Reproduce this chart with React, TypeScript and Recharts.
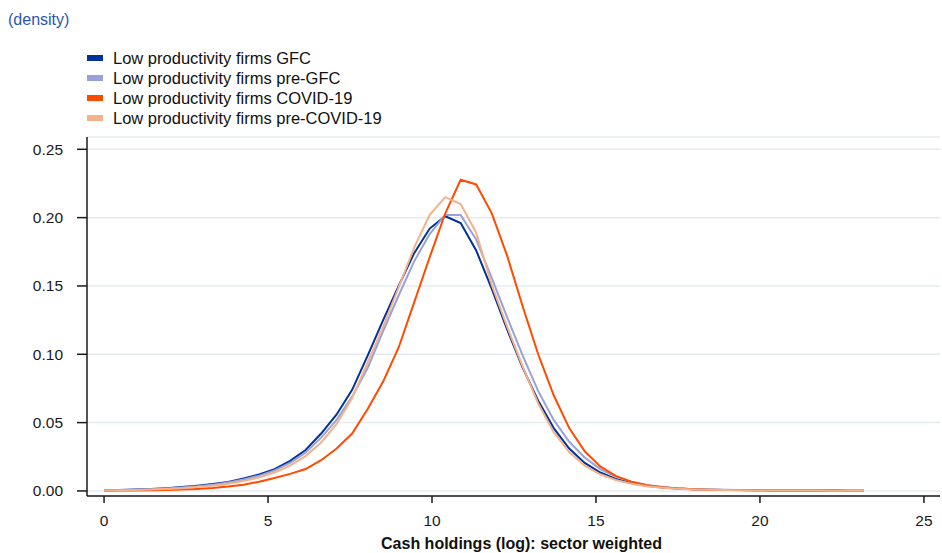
import React from 'react';
import { LineChart, Line, XAxis, YAxis, CartesianGrid } from 'recharts';

// x grid of the density estimates (log cash holdings)
const xValues = [
  0, 0.473, 0.946, 1.418, 1.891, 2.364, 2.837, 3.31, 3.782, 4.255,
  4.728, 5.201, 5.674, 6.146, 6.619, 7.092, 7.565, 8.038, 8.51, 8.983,
  9.456, 9.929, 10.402, 10.874, 11.347, 11.82, 12.293, 12.766, 13.238, 13.711,
  14.184, 14.657, 15.13, 15.602, 16.075, 16.548, 17.021, 17.494, 17.966, 18.439,
  18.912, 19.385, 19.858, 20.33, 20.803, 21.276, 21.749, 22.222, 22.694, 23.167,
];

const gfc = [
  0.0005, 0.0007, 0.001, 0.0014, 0.002, 0.0028, 0.0038, 0.005, 0.0066, 0.0092,
  0.012, 0.016, 0.022, 0.03, 0.042, 0.056, 0.074, 0.099, 0.125, 0.15,
  0.174, 0.192, 0.201, 0.196, 0.176, 0.148, 0.118, 0.09, 0.066, 0.046,
  0.031, 0.0205, 0.0135, 0.0088, 0.0058, 0.0038, 0.0025, 0.0017, 0.0012, 0.0009,
  0.0007, 0.0006, 0.0005, 0.0004, 0.0004, 0.0003, 0.0003, 0.0003, 0.0002, 0.0002,
];

const preGfc = [
  0.0005, 0.0007, 0.0009, 0.0013, 0.0018, 0.0025, 0.0034, 0.0046, 0.0062, 0.0084,
  0.0112, 0.015, 0.0205, 0.028, 0.039, 0.052, 0.069, 0.09, 0.117, 0.143,
  0.168, 0.188, 0.202, 0.202, 0.184, 0.156, 0.127, 0.099, 0.073, 0.052,
  0.036, 0.0245, 0.016, 0.0105, 0.0068, 0.0044, 0.0029, 0.0019, 0.0013, 0.001,
  0.0008, 0.0006, 0.0005, 0.0004, 0.0004, 0.0003, 0.0003, 0.0003, 0.0002, 0.0002,
];

const covid = [
  0.0002, 0.0003, 0.0004, 0.0005, 0.0007, 0.001, 0.0015, 0.0022, 0.0032, 0.0045,
  0.0068, 0.0095, 0.0125, 0.016, 0.0225, 0.031, 0.042, 0.06, 0.08, 0.105,
  0.138, 0.171, 0.203, 0.2277, 0.2243, 0.2033, 0.172, 0.135, 0.1, 0.07,
  0.046, 0.029, 0.018, 0.011, 0.0068, 0.0042, 0.0027, 0.0018, 0.0012, 0.0009,
  0.0007, 0.0006, 0.0005, 0.0004, 0.0004, 0.0003, 0.0003, 0.0003, 0.0002, 0.0002,
];

const preCovid = [
  0.0004, 0.0005, 0.0007, 0.001, 0.0014, 0.002, 0.0028, 0.0038, 0.0052, 0.0072,
  0.0098, 0.0135, 0.0185, 0.0255, 0.0355, 0.049, 0.068, 0.094, 0.12, 0.149,
  0.178, 0.202, 0.215, 0.21, 0.189, 0.151, 0.12, 0.091, 0.064, 0.043,
  0.0285, 0.0185, 0.0122, 0.008, 0.0053, 0.0035, 0.0023, 0.0016, 0.0011, 0.0008,
  0.0006, 0.0005, 0.0004, 0.0004, 0.0003, 0.0003, 0.0003, 0.0002, 0.0002, 0.0002,
];

const xTicks = [0, 5, 10, 15, 20, 25];
const yTicks = [0, 0.05, 0.1, 0.15, 0.2, 0.25];

const SERIES = [
  { key: 'gfc', name: 'Low productivity firms GFC', color: '#003299' },
  { key: 'preGfc', name: 'Low productivity firms pre-GFC', color: '#99a2d6' },
  { key: 'covid', name: 'Low productivity firms COVID-19', color: '#ff4b00' },
  { key: 'preCovid', name: 'Low productivity firms pre-COVID-19', color: '#f5b187' },
];

const data = xValues.map((x, i) => ({
  x,
  gfc: gfc[i],
  preGfc: preGfc[i],
  covid: covid[i],
  preCovid: preCovid[i],
}));

const FONT = '"Liberation Sans", Arial, sans-serif';
const tickStyle = { fontSize: 15.5, fill: '#1a1a1a', fontFamily: FONT };

export default function App() {
  return (
    <div style={{ position: 'absolute', left: 0, top: 0, width: 942, height: 553, background: '#fff', fontFamily: FONT }}>
      <LineChart width={942} height={553} data={data} margin={{ top: 137, right: 2, bottom: 27, left: 27 }}>
        <CartesianGrid vertical={false} stroke="#e4ebef" strokeWidth={1.5} />
        <XAxis
          dataKey="x"
          type="number"
          domain={[-0.52, 25.49]}
          allowDataOverflow
          ticks={xTicks}
          tick={tickStyle}
          tickSize={7}
          tickMargin={12}
          height={30}
          stroke="#1a1a1a"
          strokeWidth={1.5}
        />
        <YAxis
          type="number"
          domain={[-0.0037, 0.259]}
          allowDataOverflow
          ticks={yTicks}
          tickFormatter={(v: number) => v.toFixed(2)}
          tick={tickStyle}
          tickSize={10}
          tickMargin={14}
          width={60}
          stroke="#1a1a1a"
          strokeWidth={1.5}
        />
        {SERIES.map(s => (
          <Line
            key={s.key}
            type="linear"
            dataKey={s.key}
            name={s.name}
            stroke={s.color}
            strokeWidth={2}
            dot={false}
            activeDot={false}
            isAnimationActive={false}
          />
        ))}
      </LineChart>
      <div style={{ position: 'absolute', left: 8, top: 11, fontSize: 16, color: '#2a55b4' }}>(density)</div>
      <div style={{ position: 'absolute', left: 87, top: 48 }}>
        {SERIES.map(s => (
          <div key={s.key} style={{ display: 'flex', alignItems: 'center', height: 20 }}>
            <span style={{ display: 'inline-block', width: 16, height: 6, background: s.color, marginRight: 10 }} />
            <span style={{ fontSize: 16.5, color: '#111' }}>{s.name}</span>
          </div>
        ))}
      </div>
      <div style={{ position: 'absolute', left: 95, width: 853, top: 535, textAlign: 'center', fontSize: 16, fontWeight: 'bold', color: '#111' }}>
        Cash holdings (log): sector weighted
      </div>
    </div>
  );
}
